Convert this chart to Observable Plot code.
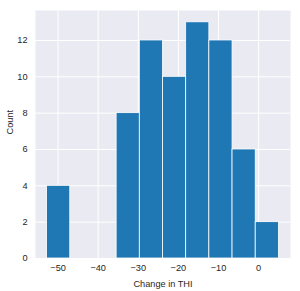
<!DOCTYPE html>
<html>
<head>
<meta charset="utf-8">
<script src="https://cdn.jsdelivr.net/npm/d3@7"></script>
<script src="https://cdn.jsdelivr.net/npm/@observablehq/plot@0.6"></script>
<style>
  html, body { margin: 0; padding: 0; background: #ffffff; }
  #chart svg { display: block; }
</style>
</head>
<body>
<div id="chart"></div>
<script>
// Histogram of change in THI
const binEdges = [-52.74, -46.96, -41.18, -35.40, -29.62, -23.84, -18.06, -12.28, -6.50, -0.72, 5.06];
const counts = [4, 0, 0, 8, 12, 10, 13, 12, 6, 2];
const xTicks = [-50, -40, -30, -20, -10, 0];
const yTicks = [0, 2, 4, 6, 8, 10, 12];
const xLabel = "Change in THI";
const yLabel = "Count";

const bins = counts.map((c, i) => ({x1: binEdges[i], x2: binEdges[i + 1], count: c}));

const fontFamily = "Arial, 'Liberation Sans', sans-serif";
const fmt = d => String(d).replace("-", "\u2212");

const chart = Plot.plot({
  width: 300,
  height: 291,
  marginLeft: 35,
  marginRight: 10,
  marginTop: 10,
  marginBottom: 33,
  style: {fontFamily, fontSize: "9.2px", color: "#262626", background: "#ffffff"},
  x: {domain: [-55.63, 7.95]},
  y: {domain: [0, 13.65]},
  marks: [
    Plot.frame({fill: "#EAEAF2", stroke: null}),
    Plot.gridX(xTicks, {stroke: "#ffffff", strokeOpacity: 1, strokeWidth: 1}),
    Plot.gridY(yTicks, {stroke: "#ffffff", strokeOpacity: 1, strokeWidth: 1}),
    Plot.rectY(bins.filter(d => d.count > 0), {x1: "x1", x2: "x2", y: "count", fill: "#1f77b4", stroke: "#ffffff", strokeWidth: 0.8}),
    Plot.axisX(xTicks, {tickSize: 0, tickPadding: 6, tickFormat: fmt, label: null, fill: "#262626"}),
    Plot.axisY(yTicks, {tickSize: 0, tickPadding: 8, tickFormat: fmt, label: null, fill: "#262626"}),
    Plot.text([xLabel], {frameAnchor: "bottom", dy: 28, fontSize: 9.2, fill: "#262626"}),
    Plot.text([yLabel], {frameAnchor: "left", dx: -25, rotate: -90, fontSize: 9.2, fill: "#262626"})
  ]
});
document.getElementById("chart").appendChild(chart);
</script>
</body>
</html>
